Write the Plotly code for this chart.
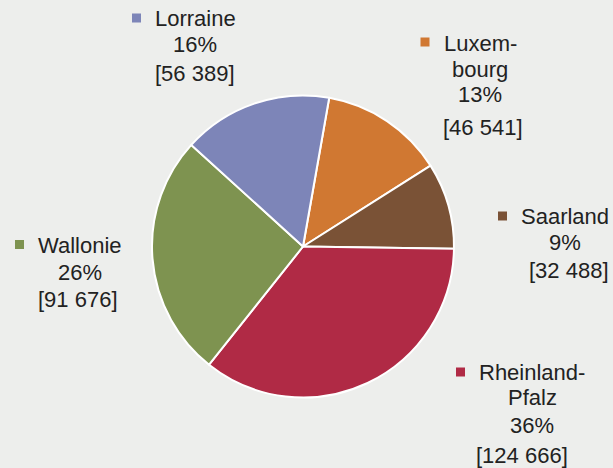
import plotly.graph_objects as go

W, H = 613, 468

# Employment by region (slices drawn clockwise starting at Luxembourg)
regions = ["Luxembourg", "Saarland", "Rheinland-Pfalz", "Wallonie", "Lorraine"]
label_lines = [["Luxem-", "bourg"], ["Saarland"], ["Rheinland-", "Pfalz"], ["Wallonie"], ["Lorraine"]]
values = [46541, 32488, 124666, 91676, 56389]
pct_labels = ["13%", "9%", "36%", "26%", "16%"]
colors = ["#D07832", "#7A5236", "#B02A45", "#7E9350", "#7D85B8"]

BG = "#EDEEEC"
TXT = "#222222"
FONT = "Liberation Sans, Arial, sans-serif"


def px_x(x):
    return x / W


def px_y(y):
    return 1 - y / H


# pie geometry in pixels
cx, cy, r = 303, 246.5, 151

fig = go.Figure(
    go.Pie(
        labels=regions,
        values=values,
        sort=False,
        direction="clockwise",
        rotation=10,
        marker=dict(colors=colors, line=dict(color="white", width=2)),
        textinfo="none",
        hoverinfo="label+value+percent",
        showlegend=False,
        domain=dict(x=[px_x(cx - r), px_x(cx + r)], y=[px_y(cy + r), px_y(cy - r)]),
    )
)

# label layout: centre x of the text, y of each line, marker centre
label_pos = {
    "Luxembourg": dict(x=480, ys=[43.5, 69, 95], vy=127.5, vx=483, m=(425, 42)),
    "Saarland": dict(x=565, ys=[216.5, 242.5], vy=270, vx=569, m=(502.5, 216)),
    "Rheinland-Pfalz": dict(x=532, ys=[372.5, 397.5, 425.5], vy=455, vx=521.5, m=(460.5, 372)),
    "Wallonie": dict(x=79.5, ys=[245.5, 272.5], vy=299, vx=78, m=(19.5, 244.5)),
    "Lorraine": dict(x=195, ys=[19, 44.5], vy=73.5, vx=195, m=(136.5, 18)),
}

annotations = []
shapes = []
for name, lines, val, pct, col in zip(regions, label_lines, values, pct_labels, colors):
    p = label_pos[name]
    texts = lines + [pct]
    for t, y in zip(texts, p["ys"]):
        annotations.append(dict(
            x=px_x(p["x"]), y=px_y(y), xref="paper", yref="paper",
            text=t, showarrow=False, xanchor="center", yanchor="middle",
            font=dict(family=FONT, size=22, color=TXT),
        ))
    vtxt = "[" + f"{val:,}".replace(",", " ") + "]"
    annotations.append(dict(
        x=px_x(p["vx"]), y=px_y(p["vy"]), xref="paper", yref="paper",
        text=vtxt, showarrow=False, xanchor="center", yanchor="middle",
        font=dict(family=FONT, size=22, color=TXT),
    ))
    mx, my = p["m"]
    s = 4.5
    shapes.append(dict(
        type="rect", xref="paper", yref="paper",
        x0=px_x(mx - s), x1=px_x(mx + s), y0=px_y(my + s), y1=px_y(my - s),
        fillcolor=col, line=dict(width=0),
    ))

fig.update_layout(
    width=W, height=H,
    margin=dict(l=0, r=0, t=0, b=0),
    paper_bgcolor=BG, plot_bgcolor=BG,
    annotations=annotations,
    shapes=shapes,
    font=dict(family=FONT, color=TXT),
)

fig.write_html("out.html")
